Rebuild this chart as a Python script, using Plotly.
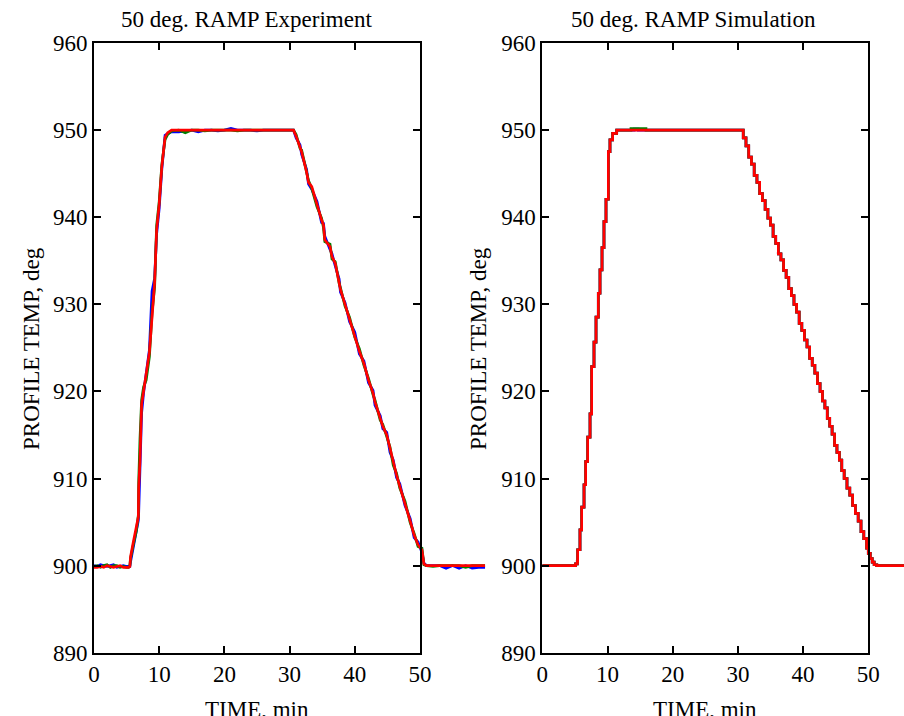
import plotly.graph_objects as go

# ---------------- data ----------------
# Experiment (left panel)
exp_time = [0, 0.5, 1.0, 1.5, 2.0, 2.5, 3.0, 3.5, 4.0, 4.5, 5.0, 5.3,
            5.5, 5.6, 6.0, 6.5, 6.8, 6.85, 7.05, 7.3, 7.6, 8.0, 8.5, 8.9, 9.3, 9.6, 10.0, 10.4, 10.7, 10.9, 11.3, 11.9,
            13, 14, 15, 16, 17, 18, 19, 20, 21, 22, 23, 24, 25, 26, 27, 28, 29, 30,
            30.6, 31.0, 31.6, 31.85, 32.6, 32.9, 33.4, 34.2, 34.9, 35.2, 35.4, 36.2, 36.5, 37.0, 37.6, 37.8, 38.5,
            39.2, 40.0, 40.7, 41.4, 42.1, 42.8, 43.1, 43.9, 44.3, 44.9, 45.4, 45.9, 46.4, 46.9, 47.7, 48.5, 49.1,
            49.7, 50.3, 50.6,
            51, 52, 53, 54, 55, 56, 57, 58, 59, 60]

exp_blue = [900.0, 899.9, 900.1, 900.0, 899.9, 900.0, 900.1, 899.8, 899.9, 900.0, 899.9, 899.9,
            899.9, 900.4, 902.0, 903.8, 905.2, 906.0, 911.0, 917.5, 919.8, 921.8, 924.8, 931.5, 933.0, 938.0, 941.0, 945.5, 948.2, 949.4, 949.6, 949.8,
            949.8, 949.9, 950.0, 949.8, 950.0, 950.0, 949.9, 950.0, 950.2, 950.0, 950.0, 950.0, 949.9, 950.0, 950.0, 950.0, 950.0, 950.0,
            950.0, 949.1, 948.3, 947.2, 945.5, 943.8, 943.2, 941.8, 939.4, 939.3, 937.8, 936.3, 935.8, 934.4, 932.9, 931.4, 930.2,
            928.0, 926.8, 924.3, 923.5, 921.0, 920.1, 918.4, 917.2, 915.7, 915.3, 913.0, 912.1, 910.1, 909.4, 906.9, 905.4, 903.2,
            902.7, 901.5, 900.3,
            900.0, 900.0, 900.0, 899.7, 900.0, 899.7, 900.0, 899.7, 899.8, 899.8]

exp_green = [899.9, 900.0, 899.8, 900.0, 900.1, 899.8, 900.0, 900.0, 899.8, 899.9, 899.8, 899.8,
             900.0, 900.8, 902.3, 904.0, 905.8, 909.5, 914.5, 919.0, 920.5, 921.3, 924.0, 929.0, 932.0, 939.0, 941.8, 946.0, 947.8, 948.9, 949.5, 949.9,
             950.0, 949.7, 950.0, 950.0, 949.9, 950.0, 950.0, 950.0, 950.0, 949.9, 950.0, 950.0, 950.0, 950.0, 950.0, 950.0, 950.0, 950.0,
             950.0, 949.5, 947.9, 947.7, 945.0, 944.2, 943.3, 941.2, 939.9, 938.8, 937.2, 936.9, 935.2, 934.9, 932.4, 931.9, 929.8,
             928.5, 926.2, 924.9, 923.0, 921.5, 919.6, 919.0, 916.7, 916.2, 914.8, 913.6, 911.5, 910.6, 908.9, 907.4, 904.9, 903.7,
             902.2, 902.0, 900.1,
             900.0, 899.9, 900.0, 900.0, 900.0, 900.0, 899.8, 900.0, 900.0, 900.0]

exp_red = [899.8, 899.8, 899.9, 899.8, 900.0, 899.9, 899.8, 899.9, 900.0, 899.8, 899.8, 899.8,
           899.9, 901.0, 902.6, 904.3, 905.6, 908.9, 912.0, 918.5, 920.0, 921.5, 924.5, 928.5, 932.5, 938.5, 941.5, 945.8, 948.0, 949.2, 949.7, 950.0,
           950.0, 950.0, 950.0, 950.0, 950.0, 950.0, 950.0, 950.0, 950.0, 950.0, 950.0, 950.0, 950.0, 950.0, 950.0, 950.0, 950.0, 950.0,
           950.0, 949.3, 948.1, 947.5, 945.2, 944.0, 943.5, 941.4, 939.7, 939.1, 937.4, 936.6, 935.5, 934.7, 932.6, 931.7, 930.0,
           928.3, 926.5, 924.6, 923.2, 921.3, 919.8, 918.8, 916.9, 916.0, 915.0, 913.4, 911.8, 910.4, 909.1, 907.2, 905.1, 903.5,
           902.4, 901.8, 900.2,
           900.0, 900.0, 900.0, 900.0, 900.0, 900.0, 900.0, 900.0, 900.0, 900.0]

# Simulation (right panel) - stepped output
sim_time = [0, 4.75, 5.1, 5.37, 5.42, 5.78, 6.04, 6.40, 6.65, 6.96, 7.32, 7.57, 7.93, 8.24, 8.59, 8.85, 9.16, 9.46, 9.77,
            10.13, 10.38, 10.79, 11.41, 13.6, 14.1, 14.7, 15.2, 15.9, 30.43,
            30.82, 31.24, 31.66, 32.08, 32.5, 32.92, 33.34, 33.76, 34.18, 34.6,
            35.0, 35.4, 35.8, 36.2, 36.6, 37.0, 37.4, 37.8, 38.2, 38.6,
            39.0, 39.4, 39.8, 40.2, 40.6, 41.0, 41.4, 41.8, 42.2, 42.6,
            42.97, 43.34, 43.71, 44.08, 44.45, 44.82, 45.19, 45.56, 45.93, 46.3,
            46.73, 47.16, 47.59, 48.02, 48.45, 48.88, 49.31, 49.74,
            50.0, 50.3, 50.6, 50.9, 51.3, 55.5]

sim_red = [900, 900, 900.2, 900.48, 901.82, 904.11, 906.72, 909.28, 911.95, 914.75, 917.42, 922.85, 925.65, 928.52, 931.27, 933.95, 936.51, 939.5, 942.06,
           947.53, 948.87, 949.63, 950, 950, 950, 950, 950, 950, 950,
           949.1, 948.2, 946.9, 946.1, 944.8, 944.0, 942.7, 941.9, 940.9, 939.9,
           939.1, 937.8, 937.0, 935.8, 935.1, 933.9, 933.1, 931.8, 931.0, 930.0,
           929.1, 927.8, 927.0, 925.9, 925.1, 923.8, 923.0, 922.1, 920.9, 920.0,
           918.9, 918.1, 916.9, 916.0, 915.1, 913.8, 913.0, 912.1, 910.9, 910.0,
           908.9, 908.1, 906.9, 906.0, 905.1, 903.9, 903.1, 902.0,
           901.4, 900.8, 900.4, 900.1, 900.0, 900.0]

sim_blue = [900, 900, 900.2, 900.48, 901.82, 904.11, 906.72, 909.28, 911.95, 914.75, 917.42, 922.85, 925.65, 928.52, 931.27, 933.95, 936.51, 939.5, 942.06,
            947.53, 948.87, 949.63, 950, 950, 950.12, 950, 950, 950, 950,
            949.1, 948.2, 946.9, 946.1, 944.8, 944.0, 942.7, 941.9, 940.9, 939.9,
            939.1, 937.8, 937.0, 935.8, 935.1, 933.9, 933.1, 931.8, 931.0, 930.0,
            929.1, 927.8, 927.0, 925.9, 925.1, 923.8, 923.0, 922.1, 920.9, 920.0,
            918.9, 918.1, 916.9, 916.0, 915.1, 913.8, 913.0, 912.1, 910.9, 910.0,
            908.9, 908.1, 906.9, 906.0, 905.1, 903.9, 903.1, 902.0,
            901.4, 900.8, 900.4, 900.1, 900.0, 900.0]

sim_green = [900, 900, 900.2, 900.48, 901.82, 904.11, 906.72, 909.28, 911.95, 914.75, 917.42, 922.85, 925.65, 928.52, 931.27, 933.95, 936.51, 939.5, 942.06,
             947.53, 948.87, 949.63, 950, 950.18, 950.18, 950.18, 950.18, 950, 950,
             949.1, 948.2, 946.9, 946.1, 944.8, 944.0, 942.7, 941.9, 940.9, 939.9,
             939.1, 937.8, 937.0, 935.8, 935.1, 933.9, 933.1, 931.8, 931.0, 930.0,
             929.1, 927.8, 927.0, 925.9, 925.1, 923.8, 923.0, 922.1, 920.9, 920.0,
             918.9, 918.1, 916.9, 916.0, 915.1, 913.8, 913.0, 912.1, 910.9, 910.0,
             908.9, 908.1, 906.9, 906.0, 905.1, 903.9, 903.1, 902.0,
             901.4, 900.8, 900.4, 900.1, 900.0, 900.0]

x_ticks = [0, 10, 20, 30, 40, 50]
y_ticks = [890, 900, 910, 920, 930, 940, 950, 960]
titles = ["50 deg. RAMP Experiment", "50 deg. RAMP Simulation"]
x_title = "TIME, min"
y_title = "PROFILE TEMP, deg"

# ---------------- figure ----------------
W, H = 904, 716
FONT = "Liberation Serif"
FS = 23
LW = 2.7
colors = {"blue": "#0000ff", "green": "#008000", "red": "#ff0000"}

fig = go.Figure()
# empty traces so that the frame axes get their own subplots (drawn first)
fig.add_trace(go.Scatter(x=[], y=[], xaxis="x3", yaxis="y", showlegend=False, hoverinfo="skip"))
fig.add_trace(go.Scatter(x=[], y=[], xaxis="x4", yaxis="y2", showlegend=False, hoverinfo="skip"))
for name, ys in (("blue", exp_blue), ("green", exp_green), ("red", exp_red)):
    fig.add_trace(go.Scatter(x=exp_time, y=ys, mode="lines", xaxis="x", yaxis="y",
                             line=dict(color=colors[name], width=LW),
                             showlegend=False, hoverinfo="skip"))
for name, ys in (("blue", sim_blue), ("green", sim_green), ("red", sim_red)):
    fig.add_trace(go.Scatter(x=sim_time, y=ys, mode="lines", xaxis="x2", yaxis="y2",
                             line=dict(color=colors[name], width=LW, shape="hv"),
                             showlegend=False, hoverinfo="skip"))

frame_common = dict(showline=True, linecolor="black", linewidth=2, mirror="ticks",
                    ticks="inside", ticklen=7, tickwidth=2, tickcolor="black",
                    showgrid=False, zeroline=False, automargin=False,
                    tickfont=dict(family=FONT, size=FS, color="black"))

y_dom = [1 - 652.7 / H, 1 - 43 / H]
L0, L1, Lext = 94.0, 420.0, 485.2
R0, R1 = 542.3, 868.3
ppu = (L1 - L0) / 50.0

fig.update_layout(
    width=W, height=H,
    margin=dict(l=0, r=0, t=0, b=0, autoexpand=False),
    paper_bgcolor="white", plot_bgcolor="rgba(0,0,0,0)",
    showlegend=False,
    xaxis=dict(domain=[L0 / W, Lext / W], range=[0, 60], visible=False, anchor="y", automargin=False),
    xaxis2=dict(domain=[R0 / W, 1.0], range=[0, (W - R0) / ppu], visible=False, anchor="y2", automargin=False),
    xaxis3=dict(domain=[L0 / W, L1 / W], range=[0, 50], anchor="y", tickvals=x_ticks, **frame_common),
    xaxis4=dict(domain=[R0 / W, R1 / W], range=[0, 50], anchor="y2", tickvals=x_ticks, **frame_common),
    yaxis=dict(domain=y_dom, range=[890, 960], anchor="x3", tickvals=y_ticks, **frame_common),
    yaxis2=dict(domain=y_dom, range=[890, 960], anchor="x4", tickvals=y_ticks, **frame_common),
)

ann_font = dict(family=FONT, size=FS, color="black")
annotations = [
    dict(text=titles[0], x=246.5 / W, y=1 - 19 / H),
    dict(text=titles[1], x=693 / W, y=1 - 19 / H),
    dict(text=x_title, x=257 / W, y=1 - 709 / H),
    dict(text=x_title, x=705 / W, y=1 - 709 / H),
    dict(text=y_title, x=31 / W, y=1 - 349 / H, textangle=-90),
    dict(text=y_title, x=478 / W, y=1 - 349 / H, textangle=-90),
]
for a in annotations:
    fig.add_annotation(xref="paper", yref="paper", xanchor="center", yanchor="middle",
                       showarrow=False, font=ann_font, **a)

fig.write_html("out.html", config={"displayModeBar": False},
               post_script="document.body.style.margin='0px';document.body.style.overflow='hidden';")
